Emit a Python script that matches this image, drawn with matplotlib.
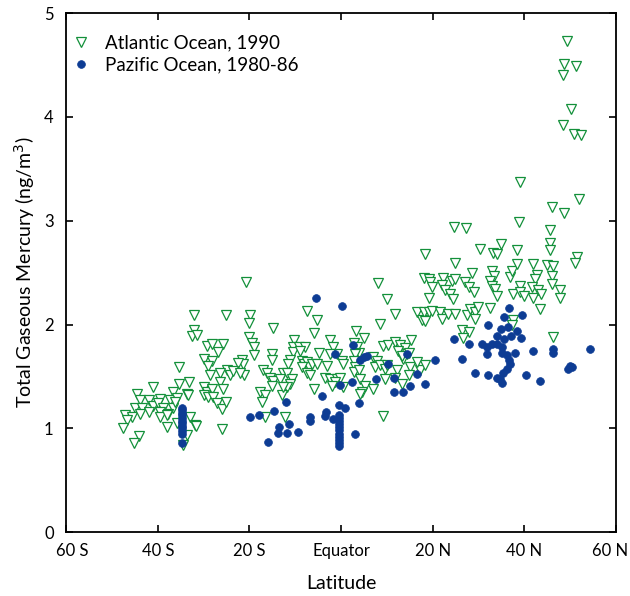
import matplotlib
matplotlib.use('Agg')
import matplotlib.pyplot as plt
from matplotlib.transforms import ScaledTranslation

# Atlantic Ocean cruise, 1990 (latitude in degrees, negative = south; TGM in ng/m3)
atl_lat = [
    -32.1, -25.2, -32.1, -32.6, -31.5, -29.3, -28.2, -25.7, -26.9, -30.0,
    -28.2, -29.0, -21.7, -21.4, -22.4, -35.3, -24.9, -24.2, -26.4, -23.5,
    -21.3, -22.0, -28.6, -26.4, -33.1, -35.3, -41.0, -44.6, -36.6, -33.7,
    -33.4, -30.0, -29.3, -28.2, -25.7, -30.0, -29.0, -27.9, -27.1, -26.0,
    -25.1, -43.9, -42.0, -39.5, -37.3, -35.9, -44.9, -43.5, -41.0, -39.9,
    -38.8, -36.6, -42.0, -39.5, -37.7, -36.2, -47.1, -45.7, -46.8, -43.9,
    -39.5, -38.0, -32.9, -35.9, -47.6, -38.0, -31.9, -31.7, -26.0, -44.0,
    -33.7, -45.2, -34.4, -20.7,
    8.1, 10.1, 19.1, -7.5, 11.8, 16.5, 17.6, -19.9, -20.2, -5.3,
    8.5, -14.9, 3.3, -5.9, -20.0, 5.0, -2.4, -10.3, -19.5, -19.0,
    -19.1, 2.7, 15.2, 9.2, 10.3, 11.8, 12.9, 14.0, 12.5, 14.3,
    13.6, 14.7, 13.2, -10.4, -9.3, -7.9, -10.5, -8.9, -1.7, -0.9,
    -2.4, 3.4, 3.8, 3.1, -15.1, -15.1, -4.9, -11.1, -11.5, -8.6,
    -8.2, -7.5, -7.1, -6.4, -5.3, -8.6, -7.5, -6.8, 0.2, 0.5,
    -3.1, 2.7, 3.1, 2.7, 3.8, 7.0, 7.8, 7.4, 8.5, 9.6,
    10.0, 12.2, 15.1, 14.7, 17.2, 18.3, 16.5, -17.0, -16.2, -15.5,
    -14.8, -12.6, -13.3, -11.8, -10.8, -11.1, -15.1, -11.8, -3.5, -2.4,
    -0.9, -0.2, -1.3, -2.0, 0.5, 4.1, 5.2, 4.5, 4.1, 7.0,
    9.6, 11.8, -5.9, 13.2, -17.7, -16.6, -17.3, -12.9, -12.6, -16.6,
    -12.2, 9.2,
    39.1, 51.9, 46.1, 48.7, 24.7, 27.3, 38.9, 45.6, 34.8, 45.6,
    45.6, 30.2, 33.1, 34.0, 38.3, 18.3, 51.4, 51.1, 24.9, 28.6,
    32.9, 33.4, 36.9, 37.2, 38.3, 41.8, 42.7, 42.3, 44.9, 46.3,
    46.0, 46.0, 47.8, 47.8, 18.0, 19.1, 19.4, 19.8, 22.3, 22.0,
    24.2, 24.9, 22.7, 23.8, 24.5, 27.1, 27.8, 28.9, 32.5, 32.9,
    33.6, 34.0, 37.6, 39.0, 39.0, 39.8, 41.6, 41.9, 43.0, 43.6,
    43.4, 18.0, 19.1, 19.8, 18.3, 21.6, 22.0, 23.4, 24.9, 27.4,
    28.1, 29.2, 29.9, 29.2, 32.4, 37.6, 37.2, 26.3, 28.0, 26.5,
    46.3,
    49.2, 48.7, 51.3, 48.5, 50.2, 48.5, 50.7, 52.4,
]
atl_hg = [
    2.09, 2.09, 1.95, 1.89, 1.90, 1.79, 1.81, 1.81, 1.74, 1.67,
    1.65, 1.60, 1.66, 1.62, 1.63, 1.59, 1.56, 1.51, 1.53, 1.55,
    1.51, 1.53, 1.51, 1.45, 1.45, 1.43, 1.40, 1.33, 1.35, 1.33,
    1.32, 1.40, 1.35, 1.38, 1.38, 1.32, 1.30, 1.30, 1.24, 1.19,
    1.25, 1.27, 1.27, 1.28, 1.27, 1.29, 1.20, 1.20, 1.22, 1.24,
    1.20, 1.20, 1.16, 1.16, 1.14, 1.25, 1.13, 1.11, 1.08, 1.14,
    1.11, 1.13, 1.11, 1.05, 1.00, 1.01, 1.03, 1.02, 0.99, 0.93,
    0.94, 0.86, 0.84, 2.41,
    2.40, 2.25, 2.26, 2.13, 2.10, 2.12, 2.04, 2.09, 2.02, 2.04,
    2.01, 1.97, 1.94, 1.92, 1.88, 1.87, 1.85, 1.85, 1.82, 1.78,
    1.71, 1.82, 1.85, 1.79, 1.80, 1.83, 1.80, 1.77, 1.75, 1.72,
    1.67, 1.73, 1.70, 1.78, 1.78, 1.78, 1.74, 1.75, 1.78, 1.72,
    1.72, 1.78, 1.73, 1.72, 1.72, 1.66, 1.73, 1.66, 1.62, 1.65,
    1.62, 1.64, 1.59, 1.62, 1.62, 1.59, 1.53, 1.51, 1.65, 1.62,
    1.60, 1.65, 1.59, 1.54, 1.56, 1.69, 1.65, 1.59, 1.61, 1.57,
    1.61, 1.56, 1.59, 1.51, 1.56, 1.61, 1.64, 1.56, 1.53, 1.49,
    1.46, 1.53, 1.48, 1.53, 1.48, 1.43, 1.41, 1.40, 1.49, 1.48,
    1.48, 1.49, 1.45, 1.41, 1.40, 1.48, 1.41, 1.35, 1.33, 1.38,
    1.48, 1.49, 1.38, 1.43, 1.35, 1.32, 1.25, 1.32, 1.40, 1.11,
    1.11, 1.12,
    3.37, 3.21, 3.13, 3.07, 2.94, 2.93, 2.99, 2.91, 2.78, 2.79,
    2.72, 2.73, 2.69, 2.68, 2.72, 2.68, 2.65, 2.59, 2.59, 2.50,
    2.52, 2.47, 2.46, 2.52, 2.58, 2.58, 2.48, 2.44, 2.57, 2.56,
    2.47, 2.39, 2.33, 2.26, 2.45, 2.44, 2.41, 2.36, 2.45, 2.38,
    2.42, 2.44, 2.33, 2.29, 2.25, 2.41, 2.36, 2.31, 2.42, 2.37,
    2.34, 2.28, 2.29, 2.37, 2.31, 2.28, 2.36, 2.26, 2.33, 2.29,
    2.15, 2.12, 2.12, 2.13, 2.03, 2.12, 2.05, 2.10, 2.10, 2.09,
    2.15, 2.12, 2.17, 2.05, 2.16, 2.04, 2.00, 1.95, 1.93, 1.87,
    1.88,
    4.73, 4.51, 4.49, 4.40, 4.08, 3.92, 3.84, 3.83,
]

# Pacific Ocean cruises, 1980-86
pac_lat = [
    -34.8, -34.8, -34.8, -34.8, -34.8, -34.8, -34.8, -34.8, -34.8, -34.8,
    -34.8, -34.8, -19.8,
    -5.5, 0.15, 2.5, -1.3, 4.1, 5.0, 5.6, 14.3, 10.3, 2.4,
    -0.2, 7.5, 11.6, 16.6, 18.2, 15.1, 11.6, 13.5, -4.1, -12.1,
    -0.4, 0.9, 3.9, -14.6, -18.0, -3.3, -3.5, -1.8, -6.9, -6.8,
    -11.3, -13.5, -13.7, -11.8, -9.4, -15.9, 3.1,
    -0.4, -0.4, -0.4, -0.4, -0.4, -0.4, -0.4, -0.4, -0.4, -0.4, -0.4,
    36.6, 39.4, 35.6, 32.1, 34.9, 36.3, 38.3, 34.0, 35.5, 37.0,
    39.3, 24.7, 28.0, 30.7, 31.8, 32.9, 34.0, 35.0, 31.8, 35.0,
    36.1, 36.7, 37.9, 36.9, 36.1, 35.4, 34.7, 34.0, 35.0, 41.9,
    46.3, 46.3, 54.3, 20.5, 26.3, 29.1, 32.1, 40.4, 43.3, 50.0,
    50.3, 49.6,
]
pac_hg = [
    0.95, 0.975, 1.00, 1.025, 1.05, 1.075, 1.10, 1.125, 1.15, 1.175,
    1.20, 0.86, 1.11,
    2.26, 2.18, 1.80, 1.72, 1.66, 1.69, 1.70, 1.72, 1.62, 1.45,
    1.42, 1.48, 1.49, 1.52, 1.43, 1.41, 1.35, 1.35, 1.31, 1.25,
    1.23, 1.20, 1.24, 1.17, 1.13, 1.16, 1.12, 1.09, 1.11, 1.07,
    1.04, 1.01, 0.96, 0.96, 0.97, 0.87, 0.95,
    0.83, 0.86, 0.89, 0.92, 0.95, 0.98, 1.01, 1.04, 1.07, 1.10, 1.13,
    2.16, 2.09, 2.07, 2.00, 1.96, 1.98, 1.94, 1.89, 1.86, 1.89,
    1.87, 1.86, 1.81, 1.81, 1.78, 1.81, 1.81, 1.78, 1.72, 1.73,
    1.71, 1.66, 1.73, 1.62, 1.57, 1.53, 1.48, 1.49, 1.44, 1.75,
    1.76, 1.73, 1.76, 1.66, 1.67, 1.53, 1.51, 1.51, 1.46, 1.60,
    1.59, 1.57,
]

lat_ticks = [-60, -40, -20, 0, 20, 40, 60]
lat_labels = ['60 S', '40 S', '20 S', 'Equator', '20 N', '40 N', '60 N']

plt.rcParams['font.family'] = ['Lato', 'DejaVu Sans']

fig = plt.figure(figsize=(6.3, 5.96), dpi=100)
ax = fig.add_axes([0.105, 0.107, 0.873, 0.871])

ax.plot(atl_lat, atl_hg, linestyle='none', marker='v', markersize=6.5,
        markerfacecolor='white', markeredgecolor='#13903a', markeredgewidth=0.9,
        label='Atlantic Ocean, 1990')
ax.plot(pac_lat, pac_hg, linestyle='none', marker='o', markersize=5.6,
        markerfacecolor='#0d3c94', markeredgecolor='#0d3c94', markeredgewidth=0.5,
        label='Pazific Ocean, 1980-86')

ax.set_xlim(-60, 60)
ax.set_ylim(0, 5)
ax.set_xticks(lat_ticks)
ax.set_xticklabels(lat_labels)
ax.set_yticks([0, 1, 2, 3, 4, 5])
ax.tick_params(direction='in', top=True, right=True, length=5, width=1.2,
               labelsize=12)
ax.tick_params(axis='x', pad=8)
ax.tick_params(axis='y', pad=9)
for s in ax.spines.values():
    s.set_linewidth(1.3)

# keep the outer latitude labels inside the figure
fig.canvas.draw()
xlabs = ax.get_xticklabels()
xlabs[0].set_transform(xlabs[0].get_transform() + ScaledTranslation(6/100, 0, fig.dpi_scale_trans))
xlabs[-1].set_transform(xlabs[-1].get_transform() + ScaledTranslation(-6/100, 0, fig.dpi_scale_trans))

ax.set_xlabel('Latitude', fontsize=14, labelpad=11)
ax.set_ylabel('Total Gaseous Mercury (ng/m$^3$)', fontsize=14, labelpad=5)

ax.legend(loc='upper left', bbox_to_anchor=(-0.001, 0.974), borderaxespad=0,
          frameon=False, fontsize=13.5, handlelength=0.8,
          handletextpad=0.9, labelspacing=0.3)

fig.savefig('out.png', dpi=100)
